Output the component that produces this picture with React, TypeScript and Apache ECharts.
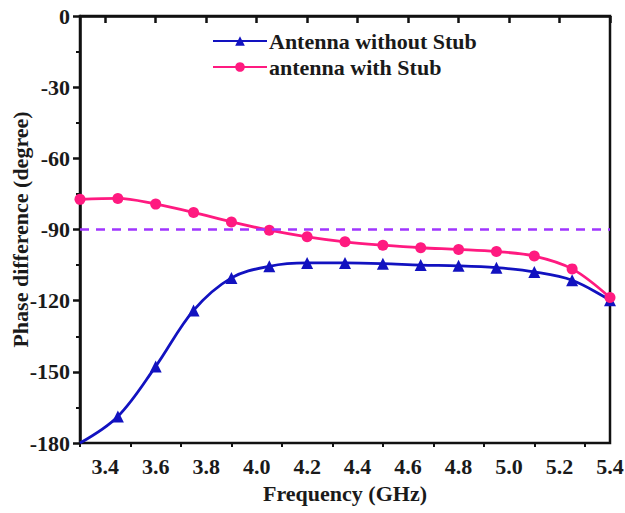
import React, { useEffect, useRef } from "react";
import * as echarts from "echarts";

// Frequency points (GHz) where phase difference was sampled
const frequency = [3.3, 3.45, 3.6, 3.75, 3.9, 4.05, 4.2, 4.35, 4.5, 4.65, 4.8, 4.95, 5.1, 5.25, 5.4];

// Phase difference (degree) for each antenna
const withoutStub = [-180, -168.8, -147.7, -124.1, -110.4, -105.5, -104.1, -104.1, -104.4, -105.0, -105.3, -106.1, -107.9, -111.4, -119.8];
const withStub = [-77.3, -76.9, -79.3, -82.8, -86.8, -90.3, -93.1, -95.2, -96.6, -97.7, -98.4, -99.3, -101.2, -106.6, -118.7];

// Reference phase level
const referencePhase = -90;

// Axis ticks
const xMajorTicks = [3.4, 3.6, 3.8, 4.0, 4.2, 4.4, 4.6, 4.8, 5.0, 5.2, 5.4];
const xMinorTicks = [3.3, 3.5, 3.7, 3.9, 4.1, 4.3, 4.5, 4.7, 4.9, 5.1, 5.3];

const FONT = "'Liberation Serif', 'Times New Roman', serif";

export default function App() {
  const ref = useRef<HTMLDivElement>(null);

  useEffect(() => {
    if (!ref.current) return;
    const chart = echarts.init(ref.current, undefined, { renderer: "svg" });

    const pairs = (ys: number[]) => frequency.map((f, i) => [f, ys[i]]);

    const labelStyle = {
      fontFamily: FONT,
      fontWeight: "bold" as const,
      fontSize: 22,
      color: "#1a1a1a",
    };

    chart.setOption({
      animation: false,
      backgroundColor: "#ffffff",
      grid: {
        left: 80,
        right: 15,
        top: 16,
        bottom: 70,
        outerBoundsMode: "none",
        containLabel: false,
        show: true,
        borderColor: "#111",
        borderWidth: 2.5,
      },
      legend: {
        orient: "vertical",
        left: 207,
        top: 25,
        itemWidth: 54,
        itemHeight: 12,
        itemGap: 4,
        textStyle: { ...labelStyle, fontSize: 22, padding: [0, 0, 0, -3] },
        data: ["Antenna without Stub", "antenna with Stub"],
      },
      xAxis: [
        {
          type: "value",
          min: 3.3,
          max: 5.4,
          name: "Frequency (GHz)",
          nameLocation: "middle",
          nameGap: 39,
          nameMoveOverlap: false,
          nameTextStyle: { ...labelStyle, fontSize: 22 },
          axisLine: { show: true, lineStyle: { color: "#111", width: 2.5 } },
          axisTick: {
            show: true,
            inside: false,
            length: 7,
            lineStyle: { color: "#111", width: 2.5 },
            customValues: xMajorTicks,
          },
          axisLabel: {
            ...labelStyle,
            margin: 12,
            customValues: xMajorTicks,
            formatter: (v: number) => v.toFixed(1),
          },
          splitLine: { show: false },
        },
        {
          type: "value",
          min: 3.3,
          max: 5.4,
          position: "bottom",
          axisLine: { show: false },
          axisTick: {
            show: true,
            inside: false,
            length: 4,
            lineStyle: { color: "#111", width: 2 },
            customValues: xMinorTicks,
          },
          axisLabel: { show: false },
          splitLine: { show: false },
        },
      ],
      yAxis: {
        type: "value",
        min: -180,
        max: 0,
        interval: 30,
        name: "Phase difference (degree)",
        nameLocation: "middle",
        nameGap: 49,
        nameMoveOverlap: false,
        nameTextStyle: { ...labelStyle, fontSize: 22 },
        axisLine: { show: true, lineStyle: { color: "#111", width: 2.5 } },
        axisTick: { show: true, inside: false, length: 7, lineStyle: { color: "#111", width: 2.5 } },
        minorTick: { show: true, splitNumber: 2, length: 4, lineStyle: { color: "#111", width: 2 } },
        axisLabel: { ...labelStyle, fontSize: 22, margin: 10 },
        splitLine: { show: false },
      },
      series: [
        {
          name: "Antenna without Stub",
          type: "line",
          xAxisIndex: 0,
          smooth: 0.35,
          symbol: "triangle",
          symbolSize: 12,
          color: "#1212c0",
          lineStyle: { width: 2.8, color: "#1212c0" },
          itemStyle: { color: "#1212c0" },
          data: pairs(withoutStub).map((p, i) =>
            i === 0 ? { value: p, symbol: "none" } : p
          ),
          z: 3,
        },
        {
          name: "antenna with Stub",
          type: "line",
          xAxisIndex: 0,
          smooth: 0.35,
          symbol: "circle",
          symbolSize: 11,
          color: "#ff1a80",
          lineStyle: { width: 2.8, color: "#ff1a80" },
          itemStyle: { color: "#ff1a80" },
          data: pairs(withStub),
          markLine: {
            silent: true,
            symbol: "none",
            label: { show: false },
            lineStyle: { color: "#a035ff", type: [9, 7], width: 2.5 },
            data: [{ yAxis: referencePhase }],
          },
          z: 4,
        },
      ],
    });

    return () => chart.dispose();
  }, []);

  return (
    <div
      ref={ref}
      style={{ position: "fixed", left: 0, top: 0, width: 625, height: 513, background: "#fff" }}
    />
  );
}
